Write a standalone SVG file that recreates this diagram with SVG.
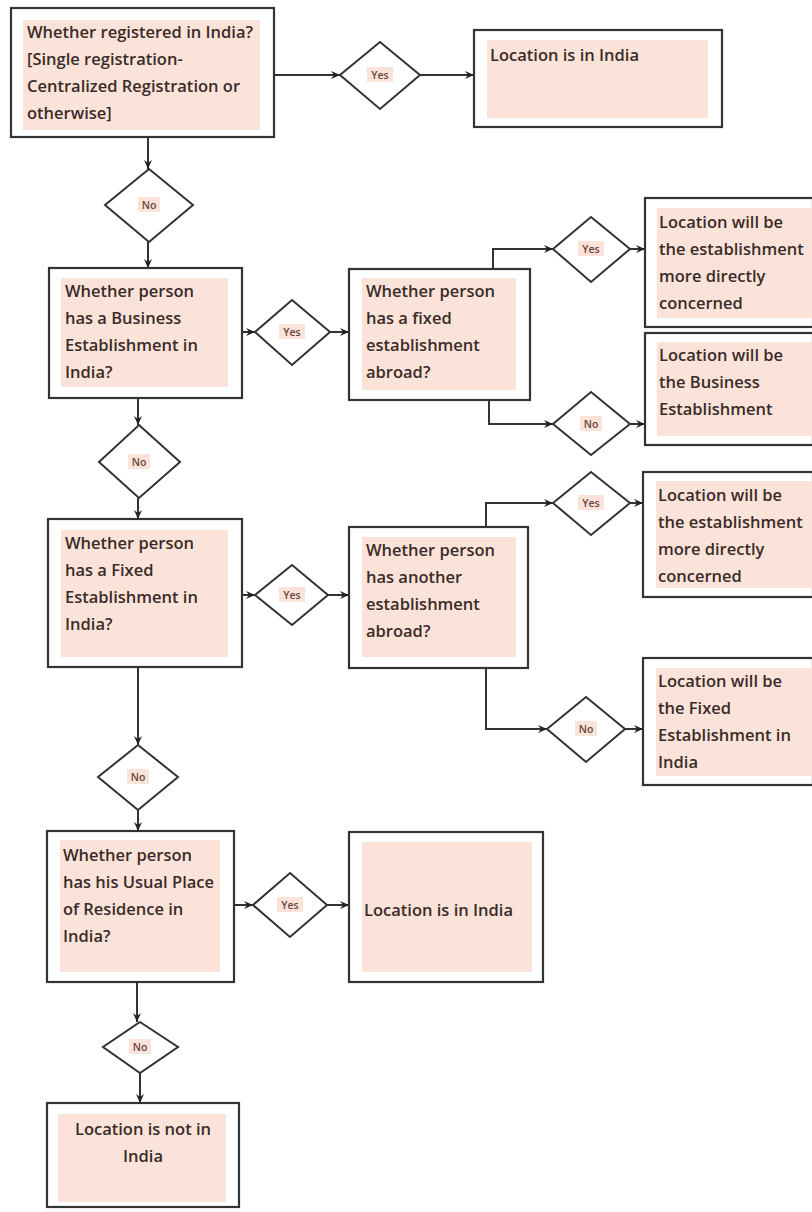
<svg xmlns="http://www.w3.org/2000/svg" width="812" height="1212" viewBox="0 0 812 1212">
<defs>
<marker id="arr" markerWidth="10" markerHeight="10" refX="9" refY="5" orient="auto" markerUnits="userSpaceOnUse">
<path d="M0,1 L9,5 L0,9 L3,5 Z" fill="#222"/>
</marker>
<style>
.box{fill:#fff;stroke:#333;stroke-width:2.2}
.in{fill:#fbe3d9}
.dia{fill:#fff;stroke:#333;stroke-width:2}
.t{font-family:"Open Sans","Noto Sans",sans-serif;font-size:16.5px;font-weight:600;fill:#3a2b29}
.s{font-family:"Open Sans","Noto Sans",sans-serif;font-size:10.5px;font-weight:600;fill:#6a4540;text-anchor:middle}
.lb{fill:#fbe3d9}
.c{fill:none;stroke:#333;stroke-width:2;marker-end:url(#arr)}
</style>
</defs>
<rect width="812" height="1212" fill="#fff"/>

<g id="connectors">
<path class="c" d="M274,75 H340"/>
<path class="c" d="M420,75 H474"/>
<path class="c" d="M148,137 V169"/>
<path class="c" d="M148,242 V268"/>
<path class="c" d="M242,332 H255"/>
<path class="c" d="M330,332 H349"/>
<path class="c" d="M493,269 V249 H553"/>
<path class="c" d="M630,249 H645"/>
<path class="c" d="M489,400 V424 H553"/>
<path class="c" d="M630,424 H645"/>
<path class="c" d="M138,398 V425"/>
<path class="c" d="M138,498 V519"/>
<path class="c" d="M242,595 H255"/>
<path class="c" d="M328,595 H349"/>
<path class="c" d="M486,527 V503 H553"/>
<path class="c" d="M630,503 H643"/>
<path class="c" d="M486,668 V729 H547"/>
<path class="c" d="M625,729 H643"/>
<path class="c" d="M138,667 V745"/>
<path class="c" d="M138,810 V831"/>
<path class="c" d="M234,905 H253"/>
<path class="c" d="M327,905 H349"/>
<path class="c" d="M137,982 V1022"/>
<path class="c" d="M140,1073 V1103"/>
</g>

<g id="n1">
<rect class="box" x="11" y="8" width="263" height="129"/>
<rect class="in" x="23" y="20" width="237" height="110"/>
<text class="t" x="27" y="38">Whether registered in India?</text>
<text class="t" x="27" y="65">[Single registration-</text>
<text class="t" x="27" y="92">Centralized Registration or</text>
<text class="t" x="27" y="119">otherwise]</text>
</g>
<g id="d1">
<polygon class="dia" points="380,42 420,75 380,109 340,75"/>
<rect class="lb" x="367" y="67" width="26" height="15"/>
<text class="s" x="380" y="79">Yes</text>
</g>
<g id="n2">
<rect class="box" x="474" y="30" width="248" height="97"/>
<rect class="in" x="487" y="40" width="221" height="78"/>
<text class="t" x="490" y="61">Location is in India</text>
</g>
<g id="d2">
<polygon class="dia" points="149,169 193,205 149,242 105,205"/>
<rect class="lb" x="138" y="197" width="22" height="15"/>
<text class="s" x="149" y="209">No</text>
</g>

<g id="n3">
<rect class="box" x="49" y="268" width="193" height="130"/>
<rect class="in" x="61" y="278" width="167" height="109"/>
<text class="t" x="65" y="297">Whether person</text>
<text class="t" x="65" y="324">has a Business</text>
<text class="t" x="65" y="351">Establishment in</text>
<text class="t" x="65" y="378">India?</text>
</g>
<g id="d3">
<polygon class="dia" points="292,300 330,332 292,365 255,332"/>
<rect class="lb" x="279" y="324" width="26" height="15"/>
<text class="s" x="292" y="336">Yes</text>
</g>
<g id="n4">
<rect class="box" x="349" y="269" width="181" height="131"/>
<rect class="in" x="362" y="278" width="154" height="112"/>
<text class="t" x="366" y="297">Whether person</text>
<text class="t" x="366" y="324">has a fixed</text>
<text class="t" x="366" y="351">establishment</text>
<text class="t" x="366" y="378">abroad?</text>
</g>
<g id="d4">
<polygon class="dia" points="591,217 630,249 591,282 553,249"/>
<rect class="lb" x="578" y="241" width="26" height="15"/>
<text class="s" x="591" y="253">Yes</text>
</g>
<g id="n5">
<rect class="box" x="645" y="198" width="168" height="129"/>
<rect class="in" x="657" y="208" width="155" height="110"/>
<text class="t" x="659" y="228">Location will be</text>
<text class="t" x="659" y="255">the establishment</text>
<text class="t" x="659" y="282">more directly</text>
<text class="t" x="659" y="309">concerned</text>
</g>
<g id="d5">
<polygon class="dia" points="591,392 630,424 591,455 553,424"/>
<rect class="lb" x="580" y="416" width="22" height="15"/>
<text class="s" x="591" y="428">No</text>
</g>
<g id="n6">
<rect class="box" x="645" y="333" width="168" height="112"/>
<rect class="in" x="657" y="342" width="155" height="94"/>
<text class="t" x="659" y="361">Location will be</text>
<text class="t" x="659" y="388">the Business</text>
<text class="t" x="659" y="415">Establishment</text>
</g>
<g id="d6">
<polygon class="dia" points="139,425 180,462 139,498 99,462"/>
<rect class="lb" x="128" y="454" width="22" height="15"/>
<text class="s" x="139" y="466">No</text>
</g>

<g id="n7">
<rect class="box" x="48" y="519" width="194" height="148"/>
<rect class="in" x="61" y="530" width="167" height="127"/>
<text class="t" x="65" y="549">Whether person</text>
<text class="t" x="65" y="576">has a Fixed</text>
<text class="t" x="65" y="603">Establishment in</text>
<text class="t" x="65" y="630">India?</text>
</g>
<g id="d7">
<polygon class="dia" points="292,565 328,595 292,625 255,595"/>
<rect class="lb" x="279" y="587" width="26" height="15"/>
<text class="s" x="292" y="599">Yes</text>
</g>
<g id="n8">
<rect class="box" x="349" y="527" width="179" height="141"/>
<rect class="in" x="362" y="537" width="154" height="120"/>
<text class="t" x="366" y="556">Whether person</text>
<text class="t" x="366" y="583">has another</text>
<text class="t" x="366" y="610">establishment</text>
<text class="t" x="366" y="637">abroad?</text>
</g>
<g id="d8">
<polygon class="dia" points="591,472 630,503 591,535 553,503"/>
<rect class="lb" x="578" y="495" width="26" height="15"/>
<text class="s" x="591" y="507">Yes</text>
</g>
<g id="n9">
<rect class="box" x="643" y="472" width="170" height="125"/>
<rect class="in" x="656" y="481" width="156" height="107"/>
<text class="t" x="658" y="501">Location will be</text>
<text class="t" x="658" y="528">the establishment</text>
<text class="t" x="658" y="555">more directly</text>
<text class="t" x="658" y="582">concerned</text>
</g>
<g id="d9">
<polygon class="dia" points="586,697 625,729 586,762 547,729"/>
<rect class="lb" x="575" y="721" width="22" height="15"/>
<text class="s" x="586" y="733">No</text>
</g>
<g id="n10">
<rect class="box" x="643" y="658" width="170" height="127"/>
<rect class="in" x="656" y="668" width="156" height="108"/>
<text class="t" x="658" y="687">Location will be</text>
<text class="t" x="658" y="714">the Fixed</text>
<text class="t" x="658" y="741">Establishment in</text>
<text class="t" x="658" y="768">India</text>
</g>
<g id="d10">
<polygon class="dia" points="138,745 178,777 138,810 98,777"/>
<rect class="lb" x="127" y="769" width="22" height="15"/>
<text class="s" x="138" y="781">No</text>
</g>

<g id="n11">
<rect class="box" x="47" y="831" width="187" height="151"/>
<rect class="in" x="60" y="840" width="160" height="132"/>
<text class="t" x="63" y="861">Whether person</text>
<text class="t" x="63" y="888">has his Usual Place</text>
<text class="t" x="63" y="915">of Residence in</text>
<text class="t" x="63" y="942">India?</text>
</g>
<g id="d11">
<polygon class="dia" points="290,873 327,905 290,937 253,905"/>
<rect class="lb" x="277" y="897" width="26" height="15"/>
<text class="s" x="290" y="909">Yes</text>
</g>
<g id="n12">
<rect class="box" x="349" y="832" width="194" height="150"/>
<rect class="in" x="362" y="842" width="170" height="130"/>
<text class="t" x="364" y="916">Location is in India</text>
</g>
<g id="d12">
<polygon class="dia" points="140,1022 178,1047 140,1073 103,1047"/>
<rect class="lb" x="129" y="1039" width="22" height="15"/>
<text class="s" x="140" y="1051">No</text>
</g>
<g id="n13">
<rect class="box" x="47" y="1103" width="192" height="104"/>
<rect class="in" x="58" y="1114" width="168" height="88"/>
<text class="t" x="143" y="1135" text-anchor="middle">Location is not in</text>
<text class="t" x="143" y="1162" text-anchor="middle">India</text>
</g>
</svg>
